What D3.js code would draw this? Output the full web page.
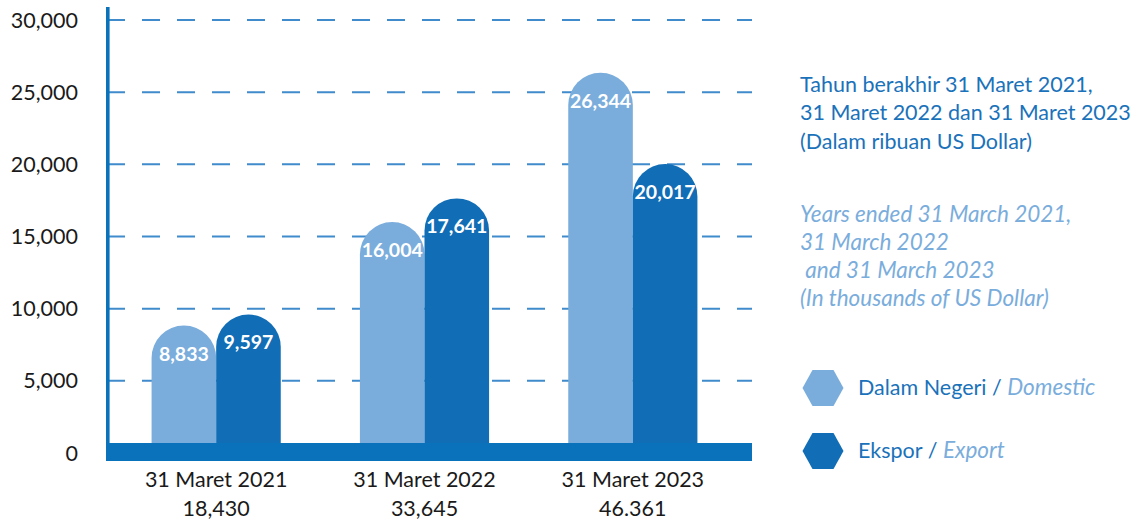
<html>
    <head>
        <script src="https://d3js.org/d3.v7.min.js"></script>
        <style>
            body{ margin:0; background:#fff; }
            text{ font-family: Lato, "Open Sans", sans-serif; }
        </style>
    </head>
    <body>
        <svg id="svg" width="1142" height="521"></svg>
        <script>
            // data
            var categories = ["31 Maret 2021", "31 Maret 2022", "31 Maret 2023"];
            var totals = ["18,430", "33,645", "46.361"];
            var series = ["Dalam Negeri", "Ekspor"];
            var domestic = [8833, 16004, 26344];
            var ekspor = [9597, 17641, 20017];
            var yTicks = [0, 5000, 10000, 15000, 20000, 25000, 30000];
            var titleId = ["Tahun berakhir 31 Maret 2021,", "31 Maret 2022 dan 31 Maret 2023", "(Dalam ribuan US Dollar)"];
            var titleEn = ["Years ended 31 March 2021,", "31 March 2022", "\u00a0and 31 March 2023", "(In thousands of US Dollar)"];
            var legendIt = ["Domestic", "Export"];

            var colors = {"Dalam Negeri": "#7aaddc", "Ekspor": "#116db5"};
            var axisColor = "#0a72ba";
            var fs = 21.5, fsIt = 22.5;

            var svg = d3.select("svg");
            var baseTop = 443, baseBottom = 461;
            var plotLeft = 106, plotRight = 752;

            var y = d3.scaleLinear().domain([0, 30000]).range([453, 20]);
            var x0 = d3.scaleBand().domain(categories).range([112, 737]).paddingInner(0.38).paddingOuter(0.19);
            var x1 = d3.scaleBand().domain(series).range([0, x0.bandwidth()]);
            var fmt = d3.format(",");

            // grid lines
            svg.append("g").selectAll("line").data(yTicks.filter(function(d){ return d > 0; }))
                .enter().append("line")
                .attr("x1", plotLeft + 1).attr("x2", plotRight)
                .attr("y1", function(d){ return y(d); }).attr("y2", function(d){ return y(d); })
                .attr("stroke", "#3f8bcc").attr("stroke-width", 2)
                .attr("stroke-dasharray", "18,17");

            // y labels
            svg.append("g").selectAll("text").data(yTicks)
                .enter().append("text")
                .attr("x", 78).attr("y", function(d){ return y(d) + 7.5; })
                .attr("text-anchor", "end")
                .attr("font-size", fs).attr("fill", "#1a1a1a")
                .text(function(d){ return fmt(d); });

            var rows = categories.map(function(c, i){
                return [{cat: c, key: "Dalam Negeri", v: domestic[i]}, {cat: c, key: "Ekspor", v: ekspor[i]}];
            });

            function dome(d){
                var w = x1.bandwidth(), r = w / 2;
                var x = x0(d.cat) + x1(d.key), top = y(d.v);
                return "M" + x + "," + baseTop + "L" + x + "," + (top + r) +
                    "A" + r + "," + r + " 0 0 1 " + (x + w) + "," + (top + r) +
                    "L" + (x + w) + "," + baseTop + "Z";
            }

            var groups = svg.append("g").selectAll("g").data(rows).enter().append("g");
            groups.selectAll("path").data(function(d){ return d; })
                .enter().append("path")
                .attr("d", dome)
                .attr("fill", function(d){ return colors[d.key]; });
            groups.selectAll("text").data(function(d){ return d; })
                .enter().append("text")
                .attr("x", function(d){ return x0(d.cat) + x1(d.key) + x1.bandwidth() / 2; })
                .attr("y", function(d){ return y(d.v) + 35; })
                .attr("text-anchor", "middle")
                .attr("font-size", 19.5).attr("font-weight", "bold").attr("fill", "#fff")
                .text(function(d){ return fmt(d.v); });

            // base bar and axis
            svg.append("rect").attr("x", plotLeft).attr("y", baseTop)
                .attr("width", plotRight - plotLeft).attr("height", baseBottom - baseTop)
                .attr("fill", axisColor);
            svg.append("line").attr("x1", 107.8).attr("x2", 107.8).attr("y1", 7).attr("y2", baseBottom)
                .attr("stroke", axisColor).attr("stroke-width", 3.6);

            // category labels
            var cl = svg.append("g").selectAll("g").data(categories).enter().append("g");
            cl.append("text")
                .attr("x", function(d){ return x0(d) + x0.bandwidth() / 2; }).attr("y", 487)
                .attr("text-anchor", "middle").attr("font-size", fs).attr("fill", "#1a1a1a")
                .text(function(d){ return d; });
            cl.append("text")
                .attr("x", function(d){ return x0(d) + x0.bandwidth() / 2; }).attr("y", 516)
                .attr("text-anchor", "middle").attr("font-size", fs).attr("fill", "#1a1a1a")
                .text(function(d, i){ return totals[i]; });

            // titles on the right
            svg.append("g").selectAll("text").data(titleId).enter().append("text")
                .attr("x", 800).attr("y", function(d, i){ return 92 + i * 28.3; })
                .attr("font-size", fs).attr("fill", "#1a72ba")
                .text(function(d){ return d; });
            svg.append("g").selectAll("text").data(titleEn).enter().append("text")
                .attr("x", 800).attr("y", function(d, i){ return 222 + i * 28; })
                .attr("font-size", fsIt).attr("font-style", "italic").attr("fill", "#7aaddc")
                .text(function(d){ return d; });

            // legend
            var hex = function(cx, cy){
                return [[cx - 20.5, cy], [cx - 10.5, cy - 18], [cx + 10.5, cy - 18],
                        [cx + 20.5, cy], [cx + 10.5, cy + 18], [cx - 10.5, cy + 18]].join(" ");
            };
            var lg = svg.append("g").selectAll("g").data(series).enter().append("g");
            lg.append("polygon")
                .attr("points", function(d, i){ return hex(823, 388 + i * 63); })
                .attr("fill", function(d){ return colors[d]; });
            var lt = lg.append("text")
                .attr("x", 858).attr("y", function(d, i){ return 395 + i * 63; })
                .attr("font-size", fs).attr("fill", "#1a72ba");
            lt.append("tspan").text(function(d){ return d + " / "; });
            lt.append("tspan").attr("font-style", "italic").attr("font-size", fsIt).attr("fill", "#7aaddc")
                .text(function(d, i){ return legendIt[i]; });
        </script>
    </body>
</html>
